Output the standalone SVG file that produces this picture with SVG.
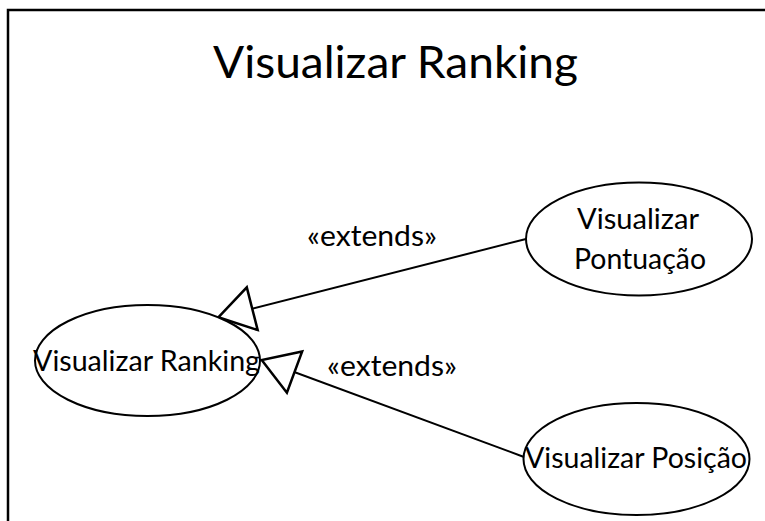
<svg xmlns="http://www.w3.org/2000/svg" width="765" height="521" viewBox="0 0 765 521">
<style>
text{font-family:Lato,"Open Sans","Liberation Sans",sans-serif;fill:#000}
.t{font-size:28px}
.title{font-size:45px}
.uc{fill:#fff;stroke:#000;stroke-width:2}
.c{stroke:#000;stroke-width:2;fill:none}
</style>
<defs>
<marker id="tri" markerUnits="userSpaceOnUse" markerWidth="50" markerHeight="50" viewBox="-40 -25 44 50" refX="0" refY="0" orient="auto" overflow="visible">
<path d="M0,0 L-35,-22 L-35,22 Z" fill="#fff" stroke="#000" stroke-width="2.5" stroke-linejoin="miter"/>
</marker>
</defs>
<rect x="0" y="0" width="765" height="521" fill="#fff"/>
<g id="frame">
<path d="M8,521 L8,10 L765,10" fill="none" stroke="#000" stroke-width="2.5"/>
<text class="title" x="213" y="78" textLength="365" lengthAdjust="spacingAndGlyphs">Visualizar Ranking</text>
</g>
<g id="connectors">
<line class="c" x1="526" y1="239" x2="218.3" y2="317.3" marker-end="url(#tri)"/>
<line class="c" x1="523.3" y1="456.7" x2="261.7" y2="360" marker-end="url(#tri)"/>
<text class="t" x="307" y="246" textLength="130" lengthAdjust="spacingAndGlyphs">«extends»</text>
<text class="t" x="327" y="376" textLength="130" lengthAdjust="spacingAndGlyphs">«extends»</text>
</g>
<g id="ranking">
<ellipse class="uc" cx="147.5" cy="360.5" rx="112.5" ry="55.5"/>
<text class="t" x="33" y="370.5" textLength="227" lengthAdjust="spacingAndGlyphs">Visualizar Ranking</text>
</g>
<g id="pontuacao">
<ellipse class="uc" cx="639" cy="239" rx="113" ry="56.5"/>
<text class="t" x="577" y="229" textLength="122" lengthAdjust="spacingAndGlyphs">Visualizar</text>
<text class="t" x="574" y="269" textLength="132" lengthAdjust="spacingAndGlyphs">Pontuação</text>
</g>
<g id="posicao">
<ellipse class="uc" cx="636.5" cy="459" rx="113" ry="56"/>
<text class="t" x="525" y="468" textLength="222" lengthAdjust="spacingAndGlyphs">Visualizar Posição</text>
</g>
</svg>
